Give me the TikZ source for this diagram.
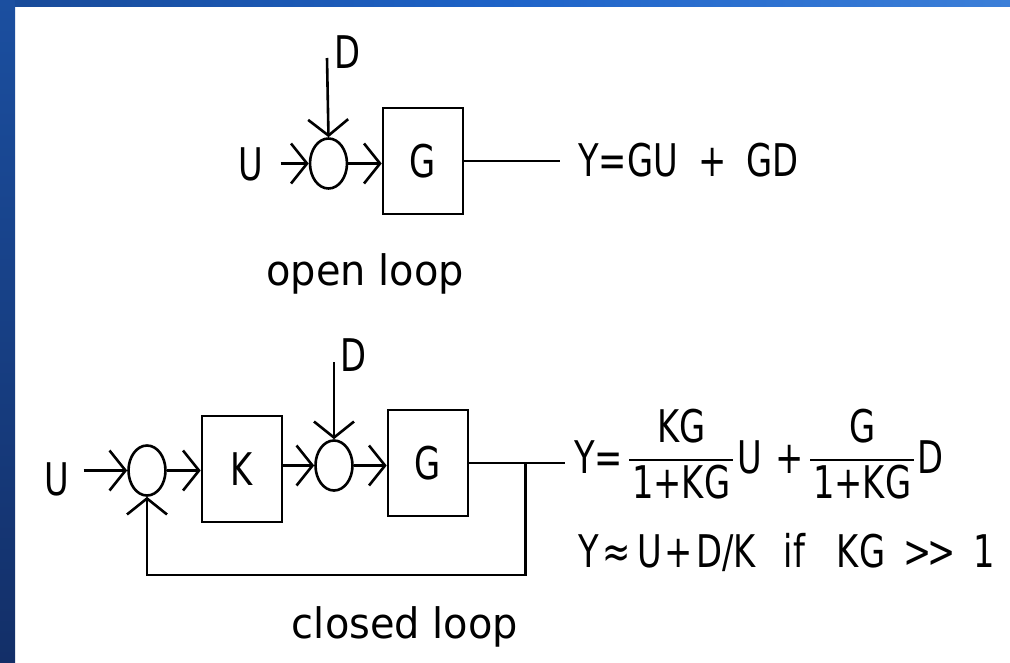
\documentclass[tikz,border=0pt]{standalone}
\usepackage{fontspec}
\setmainfont[FakeStretch=0.95]{DejaVu Sans}
\newfontfamily\capsfont[FakeStretch=0.75]{DejaVu Sans}
\usetikzlibrary{arrows.meta,
                shapes.geometric}
\usetikzlibrary{calc}
\definecolor{bandleft}{HTML}{184A98}
\definecolor{bandmid}{HTML}{1E63C8}
\definecolor{bandright}{HTML}{3C7FD8}
\definecolor{sidetop}{HTML}{1B4FA0}
\definecolor{sidebot}{HTML}{132F68}
\setlength{\arrayrulewidth}{2.2pt}
\newcommand{\fracbox}[2]{\raisebox{7pt}{\begin{tabular}{@{\hspace{3pt}}c@{\hspace{3pt}}}#1\\\hline #2\end{tabular}}}

\begin{document}
\begin{tikzpicture}[x=1pt,y=-1pt,line width=2.6pt,
    sig/.style={-{Straight Barb[length=16pt,width=40pt]}},
    lbl/.style={font=\capsfont\fontsize{45}{54}\selectfont, inner sep=1pt},
    txt/.style={font=\fontsize{42}{50}\selectfont, inner sep=1pt},
    blk/.style={draw, lbl, minimum width=80pt, minimum height=106pt, inner sep=0pt},
    sumnode/.style={draw, ellipse, minimum width=37pt, minimum height=50pt, inner sep=0pt}]

    % frame
    \fill[white] (0,0) rectangle (1010,662);
    \shade[left color=bandleft, right color=bandright, middle color=bandmid] (0,0) rectangle (1010,6);
    \shade[top color=sidetop, bottom color=sidebot] (0,0) rectangle (15,662);

    % open loop
    \node[sumnode] (s0) at (328.5,163.5) {};
    \node[blk] (g0) at (423,161) {G};
    \node[lbl] (u0) at (251,164) {U};
    \node[lbl] (d0) at (347,52) {D};
    \coordinate (d0in) at (327,58);
    \node[lbl, anchor=west] (y0) at (576,160) {Y=GU\hspace{20pt}+\hspace{20pt}GD};
    \node[txt, anchor=base] (ol) at (365,285) {open loop};

    \draw[sig] ([xshift=15pt]s0.west -| u0.east) -- (s0.west);
    \draw[sig] (d0in) -- (s0.north);
    \draw[sig] (s0.east) -- (s0.east -| g0.west);
    \draw (g0.east) -- ([xshift=-16pt]g0.east -| y0.west);

    % closed loop
    \node[lbl] (u1) at (57,479) {U};
    \node[sumnode] (s1) at (147,470.5) {};
    \node[blk] (k1) at (242,469) {K};
    \node[sumnode] (s2) at (334,465.5) {};
    \node[lbl] (d1) at (353,355) {D};
    \coordinate (d1in) at (334,362);
    \node[blk] (g1) at (428,463) {G};
    \node[lbl, anchor=base west] (y1) at (572,473)
        {Y=\hspace{6pt}\fracbox{KG}{1+KG}\hspace{4pt}U\hspace{14pt}+\hspace{6pt}\fracbox{G}{1+KG}\hspace{3pt}D};
    \node[lbl, anchor=base west] (y2) at (576,567)
        {Y\hspace{4pt}≈\hspace{6pt}U\hspace{3pt}+\hspace{3pt}D/K\hspace{28pt}if\hspace{32pt}KG\hspace{18pt}>\kern-4pt>\hspace{18pt}1};
    \node[txt, anchor=base] (cl) at (405,638) {closed loop};

    \draw[sig] ([xshift=12pt]s1.west -| u1.east) -- (s1.west);
    \draw[sig] (s1.east) -- (s1.east -| k1.west);
    \draw[sig] (s2.west -| k1.east) -- (s2.west);
    \draw[sig] (d1in) -- (s2.north);
    \draw[sig] (s2.east) -- (s2.east -| g1.west);
    \coordinate (fb) at ([xshift=56pt]g1.east);
    \draw (g1.east) -- ([xshift=-7pt]g1.east -| y1.west);
    \draw[sig] (fb) -- ++(0,112) -| (s1.south);

\end{tikzpicture}
\end{document}
